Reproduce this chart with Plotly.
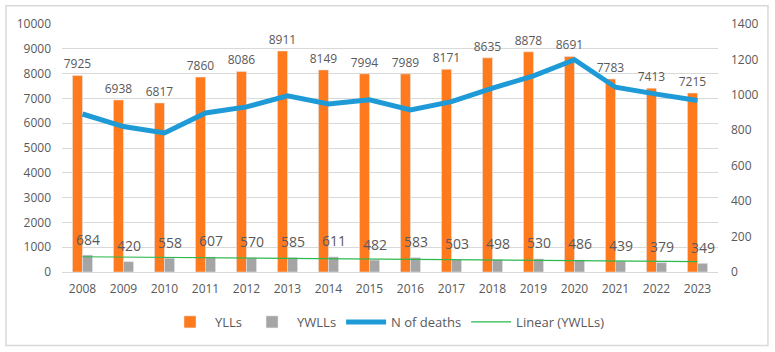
import numpy as np
import plotly.graph_objects as go

years = ["2008", "2009", "2010", "2011", "2012", "2013", "2014", "2015",
         "2016", "2017", "2018", "2019", "2020", "2021", "2022", "2023"]
ylls = [7925, 6938, 6817, 7860, 8086, 8911, 8149, 7994, 7989, 8171, 8635, 8878, 8691, 7783, 7413, 7215]
ywlls = [684, 420, 558, 607, 570, 585, 611, 482, 583, 503, 498, 530, 486, 439, 379, 349]
deaths = [892, 821, 785, 898, 932, 994, 949, 972, 915, 962, 1038, 1107, 1198, 1043, 1004, 968]

# Linear trendline of YWLLs (least squares, as Excel does)
idx = np.arange(1, len(years) + 1)
slope, intercept = np.polyfit(idx, ywlls, 1)
trend = (slope * idx + intercept).tolist()

FONT = "Open Sans"
TXT = "#595959"

fig = go.Figure()
fig.add_trace(go.Bar(
    x=years, y=ylls, name="YLLs", marker_color="#FF7A1C",
    text=[str(v) for v in ylls], textposition="outside", constraintext="none",
    textfont=dict(family=FONT, size=12, color=TXT), cliponaxis=False,
))
fig.add_trace(go.Bar(
    x=years, y=ywlls, name="YWLLs", marker_color="#A5A5A5",
))
fig.add_trace(go.Scatter(
    x=years, y=deaths, name="N of deaths", mode="lines",
    line=dict(color="#1E9BD7", width=5), yaxis="y2",
))
fig.add_trace(go.Scatter(
    x=years, y=trend, name="Linear (YWLLs)", mode="lines",
    line=dict(color="#2DB84E", width=1.2),
))

# YWLLs data labels, placed above the grey bars (x = category index)
for i, v in enumerate(ywlls):
    fig.add_annotation(x=i, y=v, xref="x", yref="y", text=str(v), showarrow=False,
                       xshift=5, yshift=16, yanchor="middle",
                       font=dict(family=FONT, size=14, color=TXT))

fig.update_layout(
    width=775, height=352,
    margin=dict(l=62, r=57, t=24, b=80, autoexpand=False),
    paper_bgcolor="white", plot_bgcolor="white",
    barmode="group", bargap=0.51, bargroupgap=0,
    font=dict(family=FONT, size=12, color=TXT),
    showlegend=True,
    legend=dict(orientation="h", x=0.5, xref="container", xanchor="center",
                y=0.128, yref="container", yanchor="top",
                font=dict(family=FONT, size=13, color=TXT), itemwidth=40,
                traceorder="normal"),
    xaxis=dict(type="category", showgrid=False, showline=True, linecolor="#D9D9D9",
               linewidth=1, ticks="", tickfont=dict(size=12, color=TXT),
               ticklabelstandoff=6, automargin=False),
    yaxis=dict(range=[0, 10000], dtick=1000, tickformat="d", showgrid=True,
               gridcolor="#D9D9D9", gridwidth=1, zeroline=False, showline=False,
               ticks="", tickfont=dict(size=12, color=TXT), ticklabelstandoff=10,
               automargin=False),
    yaxis2=dict(range=[0, 1400], dtick=200, tickformat="d", overlaying="y", side="right",
                showgrid=False, zeroline=False, showline=False, ticks="",
                tickfont=dict(size=12, color=TXT), ticklabelstandoff=12,
                automargin=False),
    shapes=[dict(type="rect", xref="paper", yref="paper",
                 x0=-0.0854, x1=1.0762, y0=-0.296, y1=1.074,
                 line=dict(color="#D9D9D9", width=1.5), layer="below")],
)

fig.write_html("out.html")
